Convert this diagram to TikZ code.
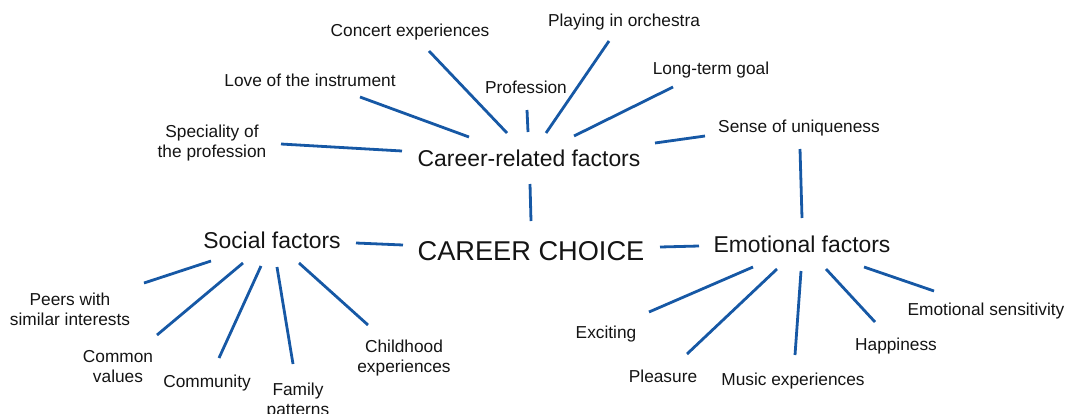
\documentclass[tikz,border=0pt]{standalone}
\usepackage{fontspec}
\setmainfont{Liberation Sans}
\definecolor{linkblue}{RGB}{22,88,165}
\definecolor{ink}{RGB}{20,20,20}
\begin{document}
\begin{tikzpicture}[x=1pt,y=-1pt,
  lbl/.style={anchor=base,inner sep=0pt,text=ink,align=center,
    font=\fontsize{17.3}{20}\selectfont},
  mid/.style={anchor=base,inner sep=0pt,text=ink,
    font=\fontsize{22.9}{26}\selectfont},
  core/.style={anchor=base,inner sep=0pt,text=ink,
    font=\fontsize{27.2}{31}\selectfont},
  link/.style={draw=linkblue,line width=2.8pt}]
\useasboundingbox (0,0) rectangle (1067,413);

% central and group labels
\node[core] (choice) at (531,260) {CAREER CHOICE};
\node[mid] (career) at (529,166) {Career-related factors};
\node[mid] (social) at (272,248) {Social factors};
\node[mid] (emotional) at (802,252) {Emotional factors};

% career-related items (two-line labels sit on their last baseline)
\node[lbl] (concert) at (410,36) {Concert experiences};
\node[lbl] (love) at (310,86) {Love of the instrument};
\node[lbl] (speciality) at (212,157) {Speciality of\\the profession};
\node[lbl] (profession) at (526,93) {Profession};
\node[lbl] (orchestra) at (624,26) {Playing in orchestra};
\node[lbl] (goal) at (711,74) {Long-term goal};
\node[lbl] (unique) at (799,132) {Sense of uniqueness};

% social items
\node[lbl] (peers) at (70,325) {Peers with\\similar interests};
\node[lbl] (values) at (118,382) {Common\\values};
\node[lbl] (community) at (207,387) {Community};
\node[lbl] (family) at (298,415) {Family\\patterns};
\node[lbl] (childhood) at (404,372) {Childhood\\experiences};

% emotional items
\node[lbl] (exciting) at (606,338) {Exciting};
\node[lbl] (pleasure) at (663,382) {Pleasure};
\node[lbl] (music) at (793,385) {Music experiences};
\node[lbl] (happiness) at (896,350) {Happiness};
\node[lbl] (sensitivity) at (986,315) {Emotional sensitivity};

% connector end points
\coordinate (concertA) at (429,51);   \coordinate (concertB) at (507,133);
\coordinate (loveA) at (360,97);      \coordinate (loveB) at (469,137);
\coordinate (specA) at (281,144);     \coordinate (specB) at (402,151);
\coordinate (profA) at (527,110);     \coordinate (profB) at (528,132);
\coordinate (orchA) at (609,41);      \coordinate (orchB) at (546,133);
\coordinate (goalA) at (673,87);      \coordinate (goalB) at (574,136);
\coordinate (uniqA) at (705,136);     \coordinate (uniqB) at (655,143);
\coordinate (uniqC) at (800,149);     \coordinate (uniqD) at (802,218);
\coordinate (careerA) at (530,184);   \coordinate (careerB) at (531,221);
\coordinate (socialA) at (356,243);   \coordinate (socialB) at (403,245);
\coordinate (emoA) at (660,247);      \coordinate (emoB) at (699,246);
\coordinate (peersA) at (211,261);    \coordinate (peersB) at (144,283);
\coordinate (valuesA) at (243,263);   \coordinate (valuesB) at (157,335);
\coordinate (commA) at (261,266);     \coordinate (commB) at (219,358);
\coordinate (famA) at (277,267);      \coordinate (famB) at (293,364);
\coordinate (childA) at (299,263);    \coordinate (childB) at (368,325);
\coordinate (excA) at (753,267);      \coordinate (excB) at (649,312);
\coordinate (pleasA) at (777,269);    \coordinate (pleasB) at (687,354);
\coordinate (musicA) at (801,271);    \coordinate (musicB) at (795,355);
\coordinate (happyA) at (826,269);    \coordinate (happyB) at (875,322);
\coordinate (sensA) at (864,267);     \coordinate (sensB) at (934,291);

% connectors
\foreach \a/\b in {concertA/concertB, loveA/loveB, specA/specB, profA/profB,
  orchA/orchB, goalA/goalB, uniqA/uniqB, uniqC/uniqD, careerA/careerB,
  socialA/socialB, emoA/emoB, peersA/peersB, valuesA/valuesB, commA/commB,
  famA/famB, childA/childB, excA/excB, pleasA/pleasB, musicA/musicB,
  happyA/happyB, sensA/sensB}
  \draw[link] (\a) -- (\b);
\end{tikzpicture}
\end{document}
